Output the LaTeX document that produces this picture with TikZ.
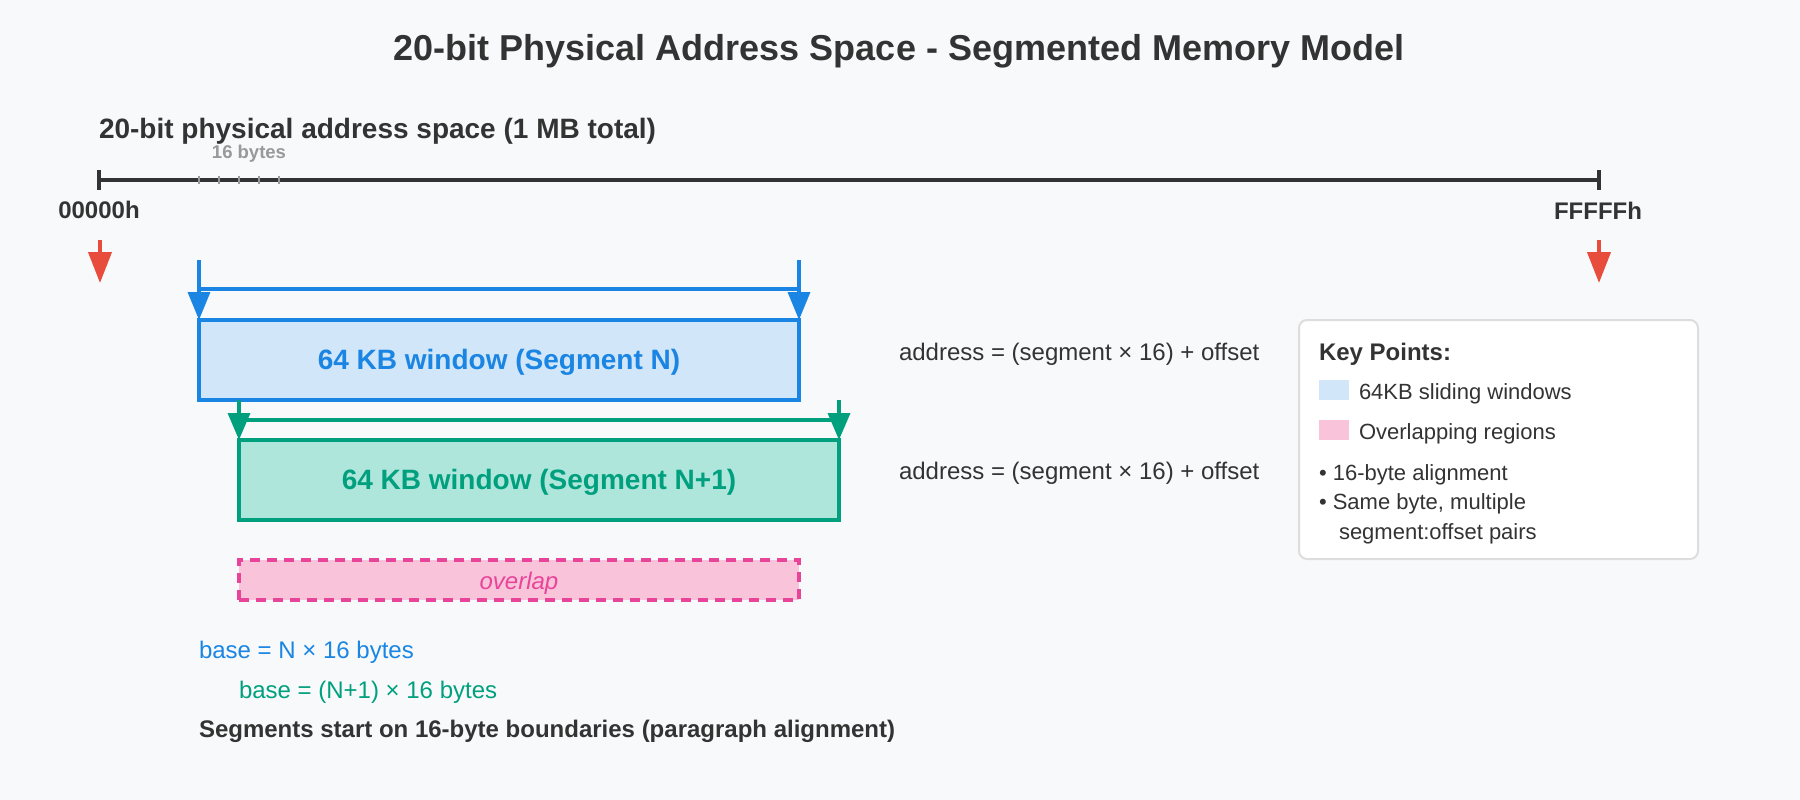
\documentclass[tikz,border=0pt]{standalone}
\usepackage{fontspec}
\setmainfont{Liberation Sans}
\usetikzlibrary{arrows.meta}
\definecolor{bg}{HTML}{F8F9FA}
\definecolor{ink}{HTML}{333333}
\definecolor{segblue}{HTML}{1A85E2}
\definecolor{segbluefill}{HTML}{D1E6F9}
\definecolor{seggreen}{HTML}{00A07F}
\definecolor{seggreenfill}{HTML}{AEE6DC}
\definecolor{ovpink}{HTML}{E8449A}
\definecolor{ovpinkfill}{HTML}{F9C4DA}
\definecolor{markred}{HTML}{E74C3C}
\definecolor{tickgray}{HTML}{999999}
\definecolor{keyborder}{HTML}{DDDDDD}
\newcommand{\fsz}[1]{\fontsize{#1}{#1}\selectfont}
\tikzset{
  txt/.style={inner sep=0pt, outer sep=0pt, text=ink},
  segbox/.style={inner sep=0pt, outer sep=0pt, line width=3.5pt, minimum height=80pt, minimum width=600pt, anchor=north west, font=\fsz{28}\bfseries, text height=21pt, text depth=1.4pt},
  bluearr/.style={draw=segblue, line width=3.5pt, -{Triangle[width=22pt,length=28pt]}},
  greenarr/.style={draw=seggreen, line width=3.5pt, -{Triangle[width=22pt,length=27pt]}},
  redarr/.style={draw=markred, line width=4pt, -{Triangle[width=23pt,length=31pt]}},
  swatch/.style={inner sep=0pt, outer sep=0pt, minimum width=30pt, minimum height=20pt, anchor=north west},
  keytxt/.style={txt, anchor=base west, font=\fsz{22}},
}
\begin{document}
\begin{tikzpicture}[x=1pt, y=-1pt]
\fill[bg] (0,0) rectangle (1800,800);
\useasboundingbox (0,0) rectangle (1800,800);

% title
\node[txt, anchor=base, font=\fsz{36}\bfseries] (title) at (899,60) {20-bit Physical Address Space - Segmented Memory Model};
\node[txt, anchor=base west, font=\fsz{28}\bfseries] (sub) at (99,139) {20-bit physical address space (1 MB total)};

% axis
\coordinate (a0) at (99,180);
\coordinate (a1) at (1599,180);
\draw[ink, line width=4pt] (a0) -- (a1);
\draw[ink, line width=4pt] (99,170) -- (99,190);
\draw[ink, line width=4pt] (1599,170) -- (1599,190);
\foreach \x in {199,219,239,259,279} \draw[tickgray, line width=1.5pt] (\x,176) -- (\x,184);
\node[txt, anchor=base, text=tickgray, font=\fsz{18.5}\bfseries] (sixteen) at (249,158) {16 bytes};
\node[txt, anchor=base, font=\fsz{24}\bfseries] (lo) at (99,218) {00000h};
\node[txt, anchor=base, font=\fsz{24}\bfseries] (hi) at (1598,219) {FFFFFh};

% red markers
\coordinate (r0s) at (100,240); \coordinate (r0e) at (100,283);
\coordinate (r1s) at (1599,240); \coordinate (r1e) at (1599,283);
\draw[redarr] (r0s) -- (r0e);
\draw[redarr] (r1s) -- (r1e);

% segment N
\node[segbox, draw=segblue, fill=segbluefill, text=segblue] (segN) at (199,320) {64 KB window (Segment N)};
\coordinate (bNl) at (199,260); \coordinate (bNr) at (799,260);
\coordinate (bNhl) at (199,289); \coordinate (bNhr) at (799,289);
\draw[segblue, line width=3.5pt] (bNhl) -- (bNhr);
\draw[bluearr] (bNl) -- (segN.north west);
\draw[bluearr] (bNr) -- (segN.north east);

% segment N+1
\node[segbox, draw=seggreen, fill=seggreenfill, text=seggreen] (segN1) at (239,440) {64 KB window (Segment N+1)};
\coordinate (gNl) at (239,400); \coordinate (gNr) at (839,400);
\coordinate (gNhl) at (239,420); \coordinate (gNhr) at (839,420);
\draw[seggreen, line width=3.5pt] (gNhl) -- (gNhr);
\draw[greenarr] (gNl) -- (segN1.north west);
\draw[greenarr] (gNr) -- (segN1.north east);

% overlap
\node[inner sep=0pt, outer sep=0pt, anchor=north west, minimum width=560pt, minimum height=40pt,
      draw=ovpink, fill=ovpinkfill, line width=3.5pt, dash pattern=on 10pt off 7pt,
      text=ovpink, font=\fsz{24}\itshape, text height=19pt, text depth=0pt] (ov) at (239,560) {overlap};

% formulas
\node[txt, anchor=base west, font=\fsz{24}] (f1) at (899,360) {address = (segment × 16) + offset};
\node[txt, anchor=base west, font=\fsz{24}] (f2) at (899,479) {address = (segment × 16) + offset};

% base labels
\node[txt, anchor=base west, text=segblue, font=\fsz{24}] (b1) at (199,658) {base = N × 16 bytes};
\node[txt, anchor=base west, text=seggreen, font=\fsz{24}] (b2) at (239,698) {base = (N+1) × 16 bytes};
\node[txt, anchor=base west, font=\fsz{24}\bfseries] (b3) at (199,737) {Segments start on 16-byte boundaries (paragraph alignment)};

% key box
\node[draw=keyborder, fill=white, rounded corners=8pt, line width=2pt, inner sep=0pt, outer sep=0pt,
      minimum width=399pt, minimum height=239pt, anchor=north west] (key) at (1299,320) {};
\node[txt, anchor=base west, font=\fsz{24}\bfseries] (keyt) at (1319,360) {Key Points:};
\node[swatch, fill=segbluefill] (swb) at (1319,380) {};
\node[keytxt] (k1) at (1359,399) {64KB sliding windows};
\node[swatch, fill=ovpinkfill] (swp) at (1319,420) {};
\node[keytxt] (k2) at (1359,439) {Overlapping regions};
\node[keytxt] (k3) at (1319,480) {• 16-byte alignment};
\node[keytxt] (k4) at (1319,509) {• Same byte, multiple};
\node[keytxt] (k5) at (1339,539) {segment:offset pairs};
\end{tikzpicture}
\end{document}
